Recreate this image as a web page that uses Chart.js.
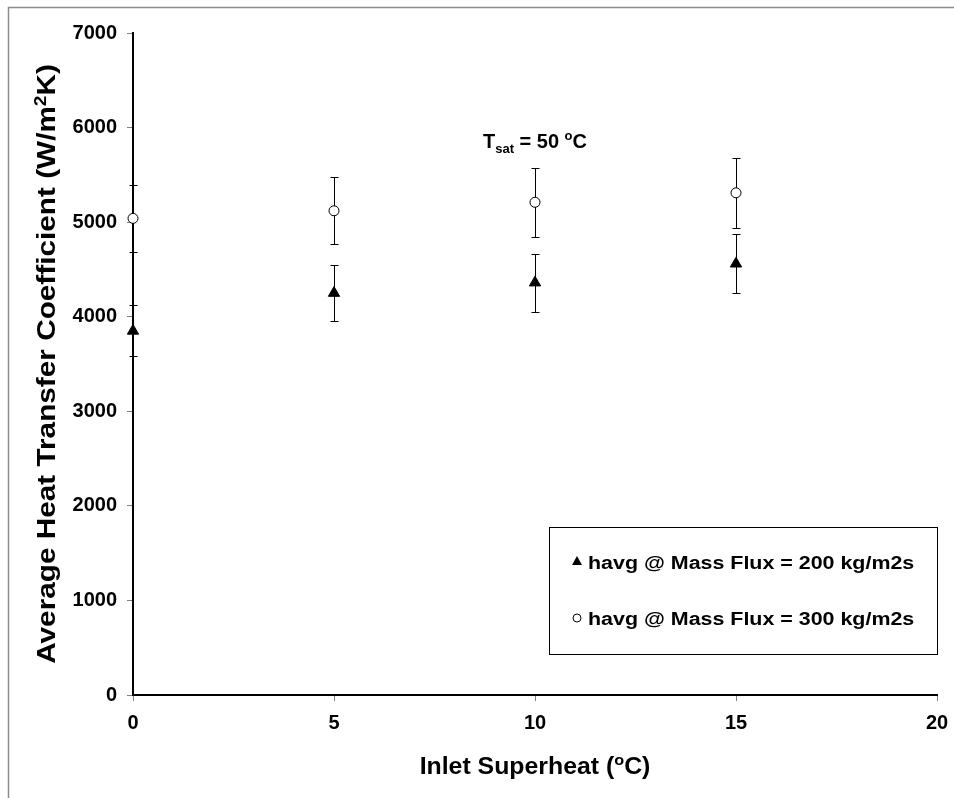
<!DOCTYPE html>
<html>
<head>
<meta charset="utf-8">
<script src="https://cdn.jsdelivr.net/npm/chart.js@4.4.1/dist/chart.umd.min.js"></script>
<style>
  html, body { margin: 0; padding: 0; background: #fff; }
  #wrap { position: relative; width: 954px; height: 798px; }
</style>
</head>
<body>
<div id="wrap"><canvas id="chart"></canvas></div>
<script>
// data
const superheat = [0, 5, 10, 15];
const havg200 = [3850, 4250, 4360, 4560];
const havg200Err = [270, 296, 305, 310];
const havg300 = [5040, 5120, 5210, 5310];
const havg300Err = [355, 356, 365, 370];
const seriesNames = [
  "havg @ Mass Flux = 200 kg/m2s",
  "havg @ Mass Flux = 300 kg/m2s",
];
const xTicks = [0, 5, 10, 15, 20];
const yTicks = [0, 1000, 2000, 3000, 4000, 5000, 6000, 7000];

const FONT = '"Liberation Sans", Arial, sans-serif';

const toPoints = (xs, ys) => xs.map((x, i) => ({ x: x, y: ys[i] }));

// measure a run of [text, size, dy] pieces
function runWidth(ctx, parts) {
  let w = 0;
  parts.forEach(([t, size]) => {
    ctx.font = "bold " + size + "px " + FONT;
    w += ctx.measureText(t).width;
  });
  return w;
}

// draw the pieces left to right, widened by "stretch" like the source text
function drawRun(ctx, parts, x, y, stretch, align) {
  const w = runWidth(ctx, parts);
  ctx.save();
  ctx.translate(x, y);
  ctx.scale(stretch, 1);
  let cx = align === "center" ? -w / 2 : 0;
  parts.forEach(([t, size, dy]) => {
    ctx.font = "bold " + size + "px " + FONT;
    ctx.fillText(t, cx, dy || 0);
    cx += ctx.measureText(t).width;
  });
  ctx.restore();
}

// vertical error bars with small caps, drawn under the markers
const errorBars = {
  id: "errorBars",
  beforeDatasetsDraw(chart) {
    const { ctx, scales } = chart;
    ctx.save();
    ctx.strokeStyle = "#000";
    ctx.lineWidth = 1;
    chart.data.datasets.forEach((ds) => {
      ds.data.forEach((p, i) => {
        const px = Math.round(scales.x.getPixelForValue(p.x)) + 0.5;
        const top = Math.round(scales.y.getPixelForValue(p.y + ds.errors[i])) + 0.5;
        const bot = Math.round(scales.y.getPixelForValue(p.y - ds.errors[i])) + 0.5;
        ctx.beginPath();
        ctx.moveTo(px, top);
        ctx.lineTo(px, bot);
        ctx.moveTo(px - 4, top);
        ctx.lineTo(px + 4, top);
        ctx.moveTo(px - 4, bot);
        ctx.lineTo(px + 4, bot);
        ctx.stroke();
      });
    });
    ctx.restore();
  },
};

// frame, axis titles, T_sat note and the boxed legend
const decorations = {
  id: "decorations",
  afterDraw(chart) {
    const { ctx, chartArea } = chart;
    ctx.save();

    // outer chart frame (cut at right and bottom)
    ctx.strokeStyle = "#8c8c8c";
    ctx.lineWidth = 1.5;
    ctx.beginPath();
    ctx.moveTo(8.5, 798);
    ctx.lineTo(8.5, 7.5);
    ctx.lineTo(954, 7.5);
    ctx.stroke();

    ctx.fillStyle = "#000";
    ctx.textBaseline = "alphabetic";

    // y title
    ctx.save();
    ctx.translate(55, (chartArea.top + chartArea.bottom) / 2);
    ctx.rotate(-Math.PI / 2);
    drawRun(ctx, [
      ["Average Heat Transfer Coefficient (W/m", 25, 0],
      ["2", 16, -9],
      ["K)", 25, 0],
    ], 0, 0, 1.19, "center");
    ctx.restore();

    // x title
    drawRun(ctx, [
      ["Inlet Superheat (", 23, 0],
      ["o", 15, -9],
      ["C)", 23, 0],
    ], (chartArea.left + chartArea.right) / 2, 774, 1.08, "center");

    // T_sat note
    drawRun(ctx, [
      ["T", 20, 0],
      ["sat", 13, 5],
      [" = 50 ", 20, 0],
      ["o", 13, -8],
      ["C", 20, 0],
    ], 483, 148, 1, "left");

    // legend box
    ctx.fillStyle = "#fff";
    ctx.fillRect(549, 527, 388, 127);
    ctx.strokeStyle = "#000";
    ctx.lineWidth = 1;
    ctx.strokeRect(549.5, 527.5, 388, 127);
    ctx.fillStyle = "#000";
    const rows = [569, 625];
    // triangle marker
    ctx.beginPath();
    ctx.moveTo(577, rows[0] - 13);
    ctx.lineTo(582, rows[0] - 4);
    ctx.lineTo(572, rows[0] - 4);
    ctx.closePath();
    ctx.fill();
    drawRun(ctx, [[seriesNames[0], 18, 0]], 588, rows[0], 1.19, "left");
    // circle marker
    ctx.beginPath();
    ctx.arc(577, rows[1] - 7, 4, 0, Math.PI * 2);
    ctx.stroke();
    drawRun(ctx, [[seriesNames[1], 18, 0]], 588, rows[1], 1.19, "left");

    ctx.restore();
  },
};

const tickFont = { family: FONT, size: 20, weight: "bold" };

new Chart(document.getElementById("chart"), {
  type: "scatter",
  data: {
    datasets: [
      {
        label: seriesNames[0],
        data: toPoints(superheat, havg200),
        errors: havg200Err,
        pointStyle: "triangle",
        pointRadius: 6.5,
        backgroundColor: "#000",
        borderColor: "#000",
        borderWidth: 1,
        clip: false,
      },
      {
        label: seriesNames[1],
        data: toPoints(superheat, havg300),
        errors: havg300Err,
        pointStyle: "circle",
        pointRadius: 5,
        backgroundColor: "#fff",
        borderColor: "#000",
        borderWidth: 1,
        clip: false,
      },
    ],
  },
  options: {
    responsive: true,
    maintainAspectRatio: false,
    animation: false,
    layout: { padding: { top: 33, right: 17, left: 0, bottom: 0 } },
    plugins: {
      legend: { display: false },
      tooltip: { enabled: false },
    },
    scales: {
      x: {
        type: "linear",
        min: 0,
        max: 20,
        afterBuildTicks: (s) => { s.ticks = xTicks.map((v) => ({ value: v })); },
        ticks: { font: tickFont, color: "#000", padding: 10, callback: (v) => String(v) },
        grid: { drawOnChartArea: false, tickLength: 6, color: "#808080" },
        border: { color: "#000", width: 2 },
        afterFit: (s) => {
          s.height = 103;
          s.paddingLeft = 0;
          s.paddingRight = 0;
        },
      },
      y: {
        min: 0,
        max: 7000,
        afterBuildTicks: (s) => { s.ticks = yTicks.map((v) => ({ value: v })); },
        ticks: { font: tickFont, color: "#000", padding: 10, callback: (v) => String(v) },
        grid: { drawOnChartArea: false, tickLength: 6, color: "#808080" },
        border: { color: "#000", width: 2 },
        afterFit: (s) => {
          s.width = 133;
          s.paddingTop = 0;
          s.paddingBottom = 0;
        },
      },
    },
  },
  plugins: [errorBars, decorations],
});
</script>
</body>
</html>
